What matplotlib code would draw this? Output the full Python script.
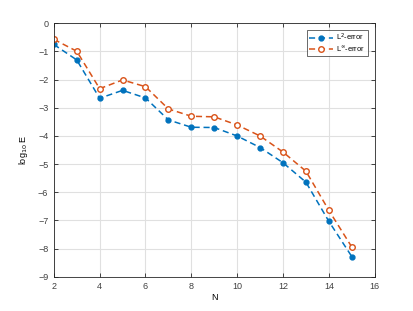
import matplotlib
matplotlib.use("Agg")
import matplotlib.pyplot as plt

N = [2, 3, 4, 5, 6, 7, 8, 9, 10, 11, 12, 13, 14, 15]
l2_err = [-0.75, -1.30, -2.66, -2.38, -2.65, -3.43, -3.69, -3.70, -4.00, -4.41, -4.95, -5.64, -7.03, -8.28]
linf_err = [-0.57, -0.99, -2.32, -2.01, -2.25, -3.04, -3.30, -3.32, -3.61, -4.00, -4.57, -5.25, -6.64, -7.94]

BLUE = "#0072BD"
ORANGE = "#D95319"

plt.rcParams["font.family"] = ["Liberation Sans", "DejaVu Sans"]
plt.rcParams["font.size"] = 6.5

fig = plt.figure(figsize=(4.14, 3.11), dpi=100)
ax = fig.add_axes([0.13, 0.11, 0.775, 0.815])

ax.plot(N, l2_err, "--", color=BLUE, lw=1.1, marker="o", ms=3.5,
        mfc=BLUE, mec=BLUE, label="L$^2$-error", dashes=(4, 2.5))
ax.plot(N, linf_err, "--", color=ORANGE, lw=1.1, marker="o", ms=4,
        mfc="white", mec=ORANGE, mew=1.0, label="L$^\\infty$-error", dashes=(4, 2.5))

ax.set_xlim(2, 16)
ax.set_ylim(-9, 0)
ax.set_xticks(range(2, 17, 2))
ax.set_yticks(range(-9, 1))
ax.set_xlabel("N", labelpad=1)
ax.set_ylabel("log$_{10}$ E", labelpad=6)

ax.grid(True, color="#e0e0e0", lw=0.8)
ax.set_axisbelow(True)
ax.tick_params(direction="in", length=3, width=0.6, top=True, right=True,
               colors="#262626", labelcolor="#404040", pad=4)
ax.tick_params(labeltop=False, labelright=False)
for s in ax.spines.values():
    s.set_color("#262626")
    s.set_linewidth(0.6)

leg = ax.legend(loc="upper right", fontsize=5.4, frameon=True, fancybox=False,
                edgecolor="#262626", borderpad=0.3, handlelength=3.2,
                handletextpad=0.45, labelspacing=0.1, borderaxespad=0.5,
                bbox_to_anchor=(0.99, 0.99))
leg.get_frame().set_linewidth(0.6)

fig.savefig("out.png", dpi=100)
